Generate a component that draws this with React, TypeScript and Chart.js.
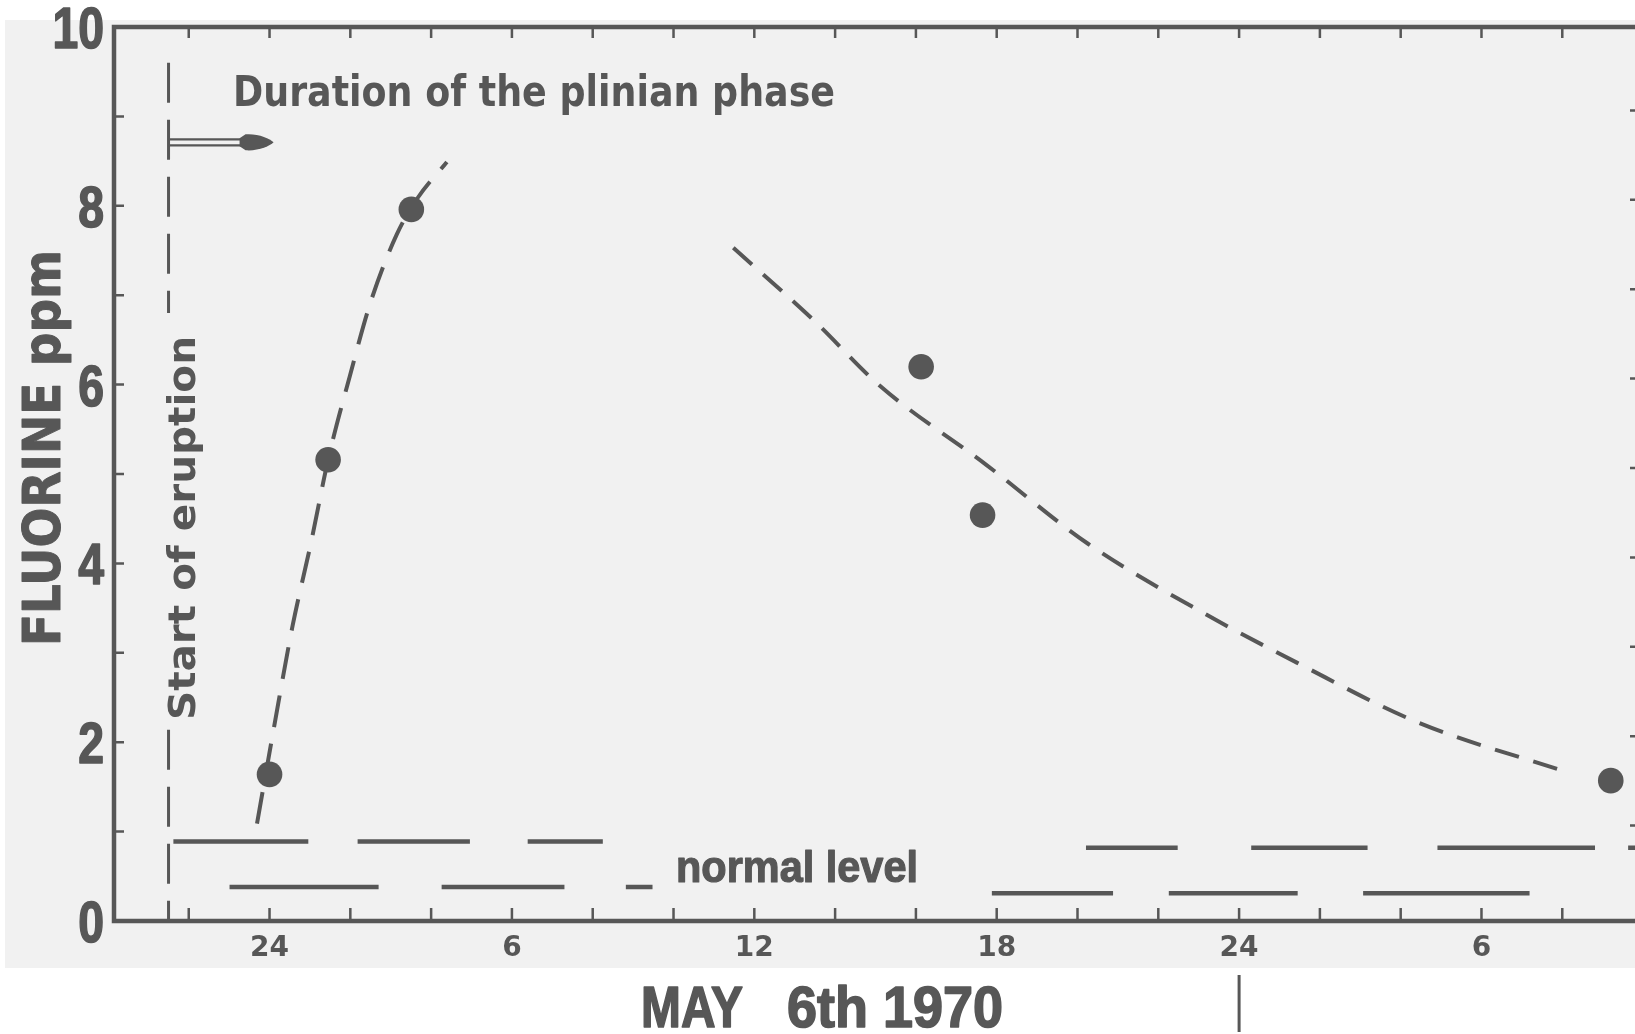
import React, { useEffect, useRef } from "react";
import { Chart, registerables } from "chart.js";

Chart.register(...registerables);

// ---------- data (x = hours, 0 = "24" midnight; y = fluorine ppm) ----------
const xTickHours = [0, 6, 12, 18, 24, 30];
const xTickLabels = ["24", "6", "12", "18", "24", "6"];
const minorTickHours = [-2, 0, 2, 4, 6, 8, 10, 12, 14, 16, 18, 20, 22, 24, 26, 28, 30, 32];
const yMinorTicks = [1, 2, 3, 4, 5, 6, 7, 8, 9];

const sampleHours = [0, 1.45, 3.51, 16.13, 17.65, 33.2];
const samplePpm = [1.64, 5.16, 7.96, 6.2, 4.54, 1.57];

const riseHours = [-0.31, 0.1, 0.57, 1.03, 1.45, 1.99, 2.5, 3.15, 3.67, 4.39];
const risePpm = [1.09, 2.14, 3.3, 4.24, 5.16, 6.1, 6.92, 7.68, 8.09, 8.49];

const decayHours = [11.48, 13.47, 15.1, 17.75, 20.26, 23.22, 25.43, 28.38, 32.22];
const decayPpm = [7.53, 6.72, 5.99, 5.1, 4.22, 3.42, 2.89, 2.23, 1.65];

const normalHighLeft = [[-2.38, 0.96], [2.18, 4.96], [6.39, 8.25]];
const normalHighLeftPpm = 0.89;
const normalHighRight = [[20.21, 22.48], [24.3, 27.18], [28.91, 32.81], [33.63, 34.2]];
const normalHighRightPpm = 0.82;
const normalLowLeft = [[-0.99, 2.7], [4.26, 7.3], [8.82, 9.48]];
const normalLowLeftPpm = 0.38;
const normalLowRight = [[17.88, 20.88], [22.26, 25.45], [27.07, 31.19]];
const normalLowRightPpm = 0.31;

const eruptionHour = -2.5;
const eruptionSpans = [[9.6, 6.8], [2.14, 0]];
const plinianEndHour = 0.1;
const plinianPpm = 8.71;
const dayBreakHour = 24;

const X_MIN = -3.85;
const X_MAX = 33.8;

// ---------- style ----------
const INK = "#575757";
const PAPER = "#f1f1f1";
const BOLD_SANS = '"DejaVu Sans", "Open Sans", sans-serif';
const HELV = '"Liberation Sans", Arial, sans-serif';

function segData(segs: number[][], level: number) {
  const out: any[] = [];
  segs.forEach(([a, b]) => {
    out.push({ x: a, y: level }, { x: b, y: level }, { x: b, y: null });
  });
  return out;
}

function fitText(
  ctx: CanvasRenderingContext2D,
  text: string,
  x: number,
  y: number,
  width: number,
  font: string,
  heavy = 0
) {
  ctx.save();
  ctx.font = font;
  ctx.fillStyle = INK;
  ctx.strokeStyle = INK;
  ctx.textAlign = "left";
  ctx.textBaseline = "alphabetic";
  const w = ctx.measureText(text).width;
  ctx.translate(x, y);
  ctx.scale(width / w, 1);
  ctx.fillText(text, 0, 0);
  if (heavy > 0) {
    ctx.lineWidth = heavy;
    ctx.lineJoin = "round";
    ctx.strokeText(text, 0, 0);
  }
  ctx.restore();
}

const decor = {
  id: "decor",
  beforeDraw(chart: any) {
    const ctx = chart.ctx as CanvasRenderingContext2D;
    ctx.save();
    ctx.fillStyle = "#ffffff";
    ctx.fillRect(0, 0, chart.width, chart.height);
    ctx.fillStyle = PAPER;
    ctx.fillRect(5, 20, chart.width - 5, 948);
    ctx.restore();
  },
  afterDatasetsDraw(chart: any) {
    const ctx = chart.ctx as CanvasRenderingContext2D;
    const a = chart.chartArea;
    const xs = chart.scales.x;
    const ys = chart.scales.y;
    ctx.save();
    ctx.strokeStyle = INK;
    ctx.fillStyle = INK;
    // axes
    ctx.lineWidth = 4.5;
    ctx.lineCap = "square";
    ctx.beginPath();
    ctx.moveTo(a.right + 4, a.top);
    ctx.lineTo(a.left, a.top);
    ctx.lineTo(a.left, a.bottom);
    ctx.lineTo(a.right + 4, a.bottom);
    ctx.stroke();
    // ticks
    ctx.lineWidth = 2.5;
    ctx.lineCap = "butt";
    ctx.beginPath();
    minorTickHours.forEach((h) => {
      const px = xs.getPixelForValue(h);
      ctx.moveTo(px, a.bottom);
      ctx.lineTo(px, a.bottom - 13);
      ctx.moveTo(px, a.top);
      ctx.lineTo(px, a.top + 11);
    });
    yMinorTicks.forEach((v) => {
      const py = ys.getPixelForValue(v);
      ctx.moveTo(a.left, py);
      ctx.lineTo(a.left + 10, py);
      ctx.moveTo(a.right, py - 6);
      ctx.lineTo(a.right - 5, py - 6);
    });
    ctx.stroke();

    // y tick labels (tall condensed digits), from the chart's own y ticks
    ys.ticks.forEach((t: any) => {
      const py = ys.getPixelForValue(t.value);
      const txt = String(t.label ?? t.value);
      ctx.save();
      ctx.font = `bold 58px ${HELV}`;
      ctx.textAlign = "right";
      ctx.textBaseline = "alphabetic";
      ctx.lineWidth = 1.6;
      ctx.lineJoin = "round";
      ctx.translate(a.left - 10, py + 21);
      ctx.scale(0.8, 1);
      ctx.fillText(txt, 0, 0);
      ctx.strokeText(txt, 0, 0);
      ctx.restore();
    });

    // plinian arrow
    const ax0 = xs.getPixelForValue(eruptionHour);
    const ax1 = xs.getPixelForValue(plinianEndHour);
    const ay = ys.getPixelForValue(plinianPpm);
    const headLen = 34;
    ctx.lineWidth = 2.4;
    ctx.beginPath();
    ctx.moveTo(ax0, ay - 3);
    ctx.lineTo(ax1 - headLen + 4, ay - 3);
    ctx.moveTo(ax0, ay + 3);
    ctx.lineTo(ax1 - headLen + 4, ay + 3);
    ctx.stroke();
    ctx.beginPath();
    const hx = ax1 - headLen;
    ctx.moveTo(hx, ay - 4);
    ctx.lineTo(hx + 6, ay - 8);
    ctx.bezierCurveTo(hx + 18, ay - 9, ax1 - 4, ay - 4, ax1, ay);
    ctx.bezierCurveTo(ax1 - 4, ay + 4, hx + 18, ay + 9, hx + 6, ay + 8);
    ctx.lineTo(hx, ay + 4);
    ctx.closePath();
    ctx.fill();

    // day-break marker below axis
    const bx = xs.getPixelForValue(dayBreakHour);
    ctx.lineWidth = 3;
    ctx.beginPath();
    ctx.moveTo(bx, 975);
    ctx.lineTo(bx, 1032);
    ctx.stroke();
    ctx.restore();

    // texts
    fitText(ctx, "Duration of the plinian phase", 233, 106, 602, `bold 42px ${BOLD_SANS}`);
    fitText(ctx, "normal level", 676, 882, 242, `bold 44px ${HELV}`, 1.2);
    fitText(ctx, "MAY", 641, 1027, 102, `bold 57px ${HELV}`, 1.6);
    fitText(ctx, "6th 1970", 787, 1027, 216, `bold 57px ${HELV}`, 1.6);

    // rotated texts
    ctx.save();
    ctx.translate(195, 720);
    ctx.rotate(-Math.PI / 2);
    fitText(ctx, "Start of eruption", 0, 0, 384, `bold 37px ${BOLD_SANS}`);
    ctx.restore();

    ctx.save();
    ctx.translate(60, 646);
    ctx.rotate(-Math.PI / 2);
    fitText(ctx, "FLUORINE ppm", 0, 0, 396, `bold 52px ${BOLD_SANS}`, 1);
    ctx.restore();
  },
};

export default function App() {
  const ref = useRef<HTMLCanvasElement | null>(null);
  useEffect(() => {
    if (!ref.current) return;
    const lineBase = { showLine: true, pointRadius: 0, borderColor: INK, backgroundColor: INK, fill: false };
    const eruptionData: any[] = [];
    eruptionSpans.forEach(([top, bottom]) => {
      eruptionData.push({ x: eruptionHour, y: top }, { x: eruptionHour, y: bottom }, { x: eruptionHour, y: null });
    });
    const chart = new Chart(ref.current, {
      type: "scatter",
      data: {
        datasets: [
          {
            label: "samples",
            data: sampleHours.map((h, i) => ({ x: h, y: samplePpm[i] })),
            pointRadius: 12.8,
            pointHoverRadius: 12.8,
            pointBackgroundColor: INK,
            pointBorderColor: INK,
            pointBorderWidth: 0,
            showLine: false,
          },
          {
            ...lineBase,
            label: "rise",
            data: riseHours.map((h, i) => ({ x: h, y: risePpm[i] })),
            borderWidth: 4,
            borderDash: [32, 17],
            cubicInterpolationMode: "monotone",
          },
          {
            ...lineBase,
            label: "decay",
            data: decayHours.map((h, i) => ({ x: h, y: decayPpm[i] })),
            borderWidth: 4,
            borderDash: [25, 15],
            cubicInterpolationMode: "monotone",
          },
          { ...lineBase, label: "nhl", data: segData(normalHighLeft, normalHighLeftPpm), borderWidth: 4.5, spanGaps: false },
          { ...lineBase, label: "nhr", data: segData(normalHighRight, normalHighRightPpm), borderWidth: 4.5, spanGaps: false },
          { ...lineBase, label: "nll", data: segData(normalLowLeft, normalLowLeftPpm), borderWidth: 4.5, spanGaps: false },
          { ...lineBase, label: "nlr", data: segData(normalLowRight, normalLowRightPpm), borderWidth: 4.5, spanGaps: false },
          {
            ...lineBase,
            label: "eruption",
            data: eruptionData,
            borderWidth: 3,
            borderDash: [40, 17],
            spanGaps: false,
          },
        ],
      },
      options: {
        animation: false,
        responsive: false,
        events: [],
        layout: { autoPadding: false, padding: { top: 27, left: 0, right: 0, bottom: 0 } },
        plugins: { legend: { display: false }, tooltip: { enabled: false } },
        scales: {
          x: {
            type: "linear",
            min: X_MIN,
            max: X_MAX,
            border: { display: false },
            grid: { display: false, drawTicks: false },
            afterBuildTicks: (s: any) => {
              s.ticks = xTickHours.map((v) => ({ value: v }));
            },
            afterFit: (s: any) => {
              s.height = 113;
            },
            ticks: {
              padding: 11,
              color: INK,
              maxRotation: 0,
              autoSkip: false,
              font: { family: BOLD_SANS, size: 28, weight: "bold" },
              callback: (_v: any, i: number) => xTickLabels[i],
            },
          },
          y: {
            type: "linear",
            min: 0,
            max: 10,
            border: { display: false },
            grid: { display: false, drawTicks: false },
            afterFit: (s: any) => {
              s.width = 114;
            },
            ticks: {
              stepSize: 2,
              display: false,
            },
          },
        },
      },
      plugins: [decor],
    } as any);
    return () => chart.destroy();
  }, []);
  return (
    <canvas
      ref={ref}
      width={1635}
      height={1034}
      style={{ position: "fixed", left: 0, top: 0, width: 1635, height: 1034, display: "block" }}
    />
  );
}
